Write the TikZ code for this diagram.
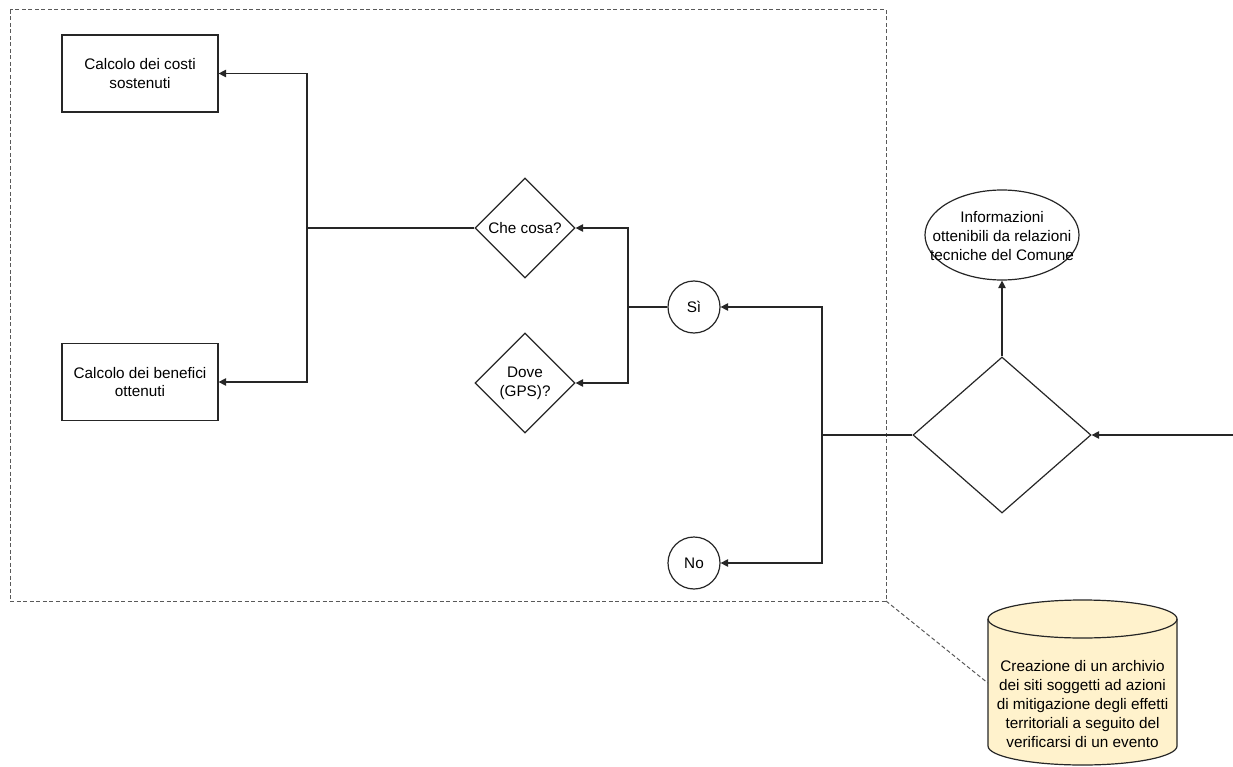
\documentclass[tikz,border=0pt]{standalone}
\usepackage{fontspec}
\setmainfont{Liberation Sans}
\usetikzlibrary{shapes.geometric,arrows.meta}
\definecolor{cylfill}{HTML}{FFF2CC}
\begin{document}
\begin{tikzpicture}[x=1pt,y=-1pt,
  every node/.style={font=\fontsize{15.3}{18.8}\selectfont, align=center, text=black},
  line/.style={draw=black!85, line width=1.2pt},
  arr/.style={line, -{Triangle[length=7.5pt,width=7.5pt]}},
  boxnode/.style={line, rectangle, minimum width=156pt, minimum height=77pt, inner sep=0pt},
  dia/.style={line, diamond, minimum width=100pt, minimum height=100pt, inner sep=0pt},
  circ/.style={line, circle, minimum size=52pt, inner sep=0pt},
  frame/.style={draw=black!65, line width=1pt, dash pattern=on 4pt off 2.5pt}
]
\useasboundingbox (0,0) rectangle (1233,767);

% container
\draw[frame] (10,10) rectangle (886,601);
\coordinate (fc) at (886,601);

% nodes
\node[boxnode] (costi) at (140,73.5) {Calcolo dei costi\\sostenuti};
\node[boxnode] (benefici) at (140,382) {Calcolo dei benefici\\ottenuti};
\node[dia] (checosa) at (525,228) {Che cosa?};
\node[dia] (dove) at (525,383) {Dove\\(GPS)?};
\node[circ] (si) at (694,307) {Sì};
\node[circ] (no) at (694,563) {No};
\node[line, diamond, minimum width=178pt, minimum height=156pt, inner sep=0pt] (big) at (1002,435) {};
\node[line, ellipse, minimum width=154pt, minimum height=90pt, inner sep=0pt] (info) at (1002,235) {};
\node at (1002,236) {Informazioni\\ottenibili da relazioni\\tecniche del Comune};
\coordinate (inright) at (1233,435);

% cylinder
\node[minimum width=189pt, minimum height=165pt, inner sep=0pt] (db) at (1082.5,682.5) {};
\fill[cylfill] (988,619) -- (988,746) arc[start angle=180, end angle=0, x radius=94.5, y radius=19] -- (1177,619) arc[start angle=0, end angle=-180, x radius=94.5, y radius=19] -- cycle;
\draw[line] (988,619) -- (988,746) arc[start angle=180, end angle=0, x radius=94.5, y radius=19] -- (1177,619);
\draw[line] (1082.5,619) ellipse[x radius=94.5, y radius=19];
\node at (1082.5,704) {Creazione di un archivio\\dei siti soggetti ad azioni\\di mitigazione degli effetti\\territoriali a seguito del\\verificarsi di un evento};

% dashed link from container to cylinder
\draw[frame] (fc) -- (db.west |- 0,683);

% connectors
\coordinate (j1) at (307,228);
\draw[line] (checosa.west) -- (j1);
\draw[arr] (j1) |- (costi.east);
\draw[arr] (j1) |- (benefici.east);

\coordinate (j2) at (628,307);
\draw[line] (si.west) -- (j2);
\draw[arr] (j2) |- (checosa.east);
\draw[arr] (j2) |- (dove.east);

\coordinate (j3) at (822,435);
\draw[line] (big.west) -- (j3);
\draw[arr] (j3) |- (si.east);
\draw[arr] (j3) |- (no.east);

\draw[arr] (big.north) -- (info.south);
\draw[arr] (inright) -- (big.east);
\end{tikzpicture}
\end{document}
